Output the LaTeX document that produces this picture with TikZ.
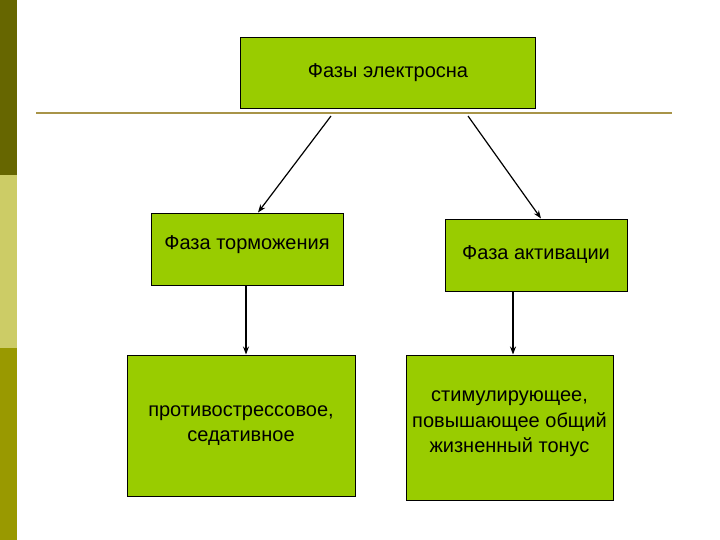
\documentclass[tikz,border=0pt]{standalone}
\usepackage{fontspec}
\setmainfont{Liberation Sans}
\usetikzlibrary{arrows.meta}
\definecolor{boxgreen}{HTML}{99CC00}
\definecolor{stripA}{HTML}{666600}
\definecolor{stripB}{HTML}{CCCC66}
\definecolor{stripC}{HTML}{999900}
\definecolor{rulecol}{HTML}{A89448}
\tikzset{
  greenbox/.style={draw=black, line width=0.9pt, fill=boxgreen, inner sep=0pt, align=center, font=\fontsize{20}{25}\selectfont},
  boxtext/.style={align=center, inner sep=0pt, font=\fontsize{20}{25.5}\selectfont},
  arr/.style={draw=black, line width=1.2pt, -{Stealth[length=8pt,width=6pt]}}
}
\begin{document}
\begin{tikzpicture}[x=1pt,y=-1pt]
\useasboundingbox (0,0) rectangle (720,540);
\fill[white] (0,0) rectangle (720,540);
\fill[stripA] (0,0) rectangle (17,175);
\fill[stripB] (0,175) rectangle (17,348);
\fill[stripC] (0,348) rectangle (17,540);
\draw[rulecol, line width=2pt] (36,113) -- (672,113);
\node[greenbox, minimum width=295pt, minimum height=71pt] (top) at (388,73) {Фазы электросна};
\node[greenbox, minimum width=192pt, minimum height=72pt] (lm) at (247,249) {};
\node[boxtext] (lmt) at (247,245) {Фаза торможения};
\node[greenbox, minimum width=182pt, minimum height=72pt] (rm) at (536,255) {Фаза активации};
\node[greenbox, minimum width=228pt, minimum height=141pt] (lb) at (241,425.5) {противострессовое,\\седативное};
\node[greenbox, minimum width=207pt, minimum height=145pt] (rb) at (509.5,427.5) {};
\node[boxtext] (rbt) at (509.5,424) {стимулирующее,\\повышающее общий\\жизненный тонус};
\coordinate (s1) at (331,116);
\coordinate (s2) at (468,116);
\draw[arr] (s1) -- (258,212.5);
\draw[arr] (s2) -- (541,218.5);
\draw[arr] (lm.south -| 246,0) -- (246,354.5);
\draw[arr] (rm.south -| 513,0) -- (513,354.5);
\end{tikzpicture}
\end{document}
